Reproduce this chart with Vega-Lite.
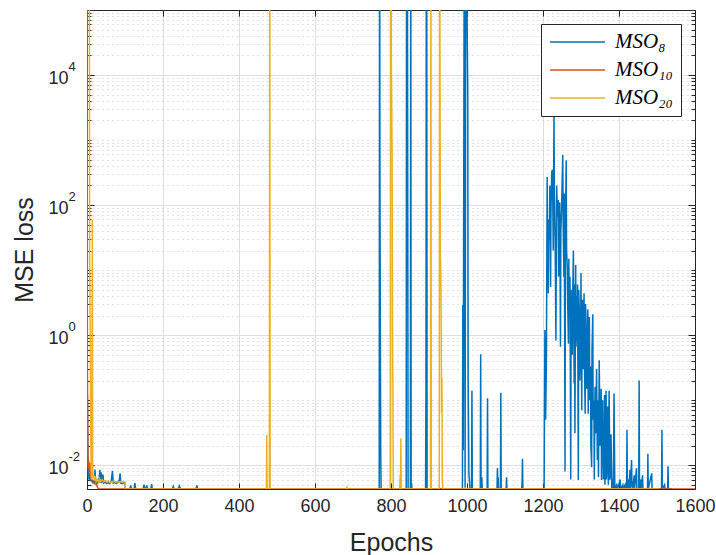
{
"$schema": "https://vega.github.io/schema/vega-lite/v6.json",
"width": 608, "height": 479,
"autosize": {"type": "none"},
"padding": {"left": 87, "top": 10, "right": 21, "bottom": 66},
"background": "white",
"config": {
  "view": {"stroke": null},
  "legend": {"orient": "top-right", "offset": 14, "padding": 8, "strokeColor": "#262626", "fillColor": "white", "cornerRadius": 0,
    "symbolType": "stroke", "symbolSize": 3025, "symbolStrokeWidth": 1.5, "clipHeight": 20, "rowPadding": 7,
    "labelFont": "Liberation Serif", "labelFontStyle": "italic", "labelFontSize": 21, "labelColor": "#000000", "labelOffset": 9}
},
"data": {"values": [
{"s":"MSO₈","e":1,"v":0.12},{"s":"MSO₈","e":2,"v":0.03},{"s":"MSO₈","e":3,"v":0.0065},{"s":"MSO₈","e":4,"v":0.009},{"s":"MSO₈","e":5,"v":0.006},{"s":"MSO₈","e":6,"v":0.0075},{"s":"MSO₈","e":8,"v":0.0058},{"s":"MSO₈","e":10,"v":0.0065},{"s":"MSO₈","e":12,"v":0.0055},{"s":"MSO₈","e":14,"v":0.006},{"s":"MSO₈","e":16,"v":0.0052},{"s":"MSO₈","e":18,"v":0.0058},{"s":"MSO₈","e":20,"v":0.0052},{"s":"MSO₈","e":21,"v":0.0086},{"s":"MSO₈","e":23,"v":0.0055},{"s":"MSO₈","e":26,"v":0.0052},{"s":"MSO₈","e":29,"v":0.0058},{"s":"MSO₈","e":31,"v":0.0053},{"s":"MSO₈","e":34,"v":0.0085},{"s":"MSO₈","e":36,"v":0.0054},{"s":"MSO₈","e":37,"v":0.0078},{"s":"MSO₈","e":39,"v":0.0053},{"s":"MSO₈","e":42,"v":0.0072},{"s":"MSO₈","e":44,"v":0.0053},{"s":"MSO₈","e":48,"v":0.0055},{"s":"MSO₈","e":52,"v":0.0052},{"s":"MSO₈","e":56,"v":0.0054},{"s":"MSO₈","e":60,"v":0.0052},{"s":"MSO₈","e":64,"v":0.0058},{"s":"MSO₈","e":67,"v":0.0082},{"s":"MSO₈","e":69,"v":0.0053},{"s":"MSO₈","e":73,"v":0.0054},{"s":"MSO₈","e":78,"v":0.0052},{"s":"MSO₈","e":82,"v":0.0056},{"s":"MSO₈","e":85,"v":0.0058},{"s":"MSO₈","e":87,"v":0.0075},{"s":"MSO₈","e":89,"v":0.0053},{"s":"MSO₈","e":93,"v":0.0052},{"s":"MSO₈","e":97,"v":0.0054},{"s":"MSO₈","e":100,"v":0.0052},{"s":"MSO₈","e":101,"v":0.0043},
{"s":"MSO₈","e":113,"v":0.0043},{"s":"MSO₈","e":115,"v":0.0049},{"s":"MSO₈","e":117,"v":0.0043},{"s":"MSO₈","e":124,"v":0.0043},{"s":"MSO₈","e":126,"v":0.0053},{"s":"MSO₈","e":128,"v":0.0043},{"s":"MSO₈","e":148,"v":0.0043},{"s":"MSO₈","e":150,"v":0.005},{"s":"MSO₈","e":152,"v":0.0043},{"s":"MSO₈","e":155,"v":0.0043},{"s":"MSO₈","e":157,"v":0.0049},{"s":"MSO₈","e":159,"v":0.0043},{"s":"MSO₈","e":168,"v":0.0043},{"s":"MSO₈","e":170,"v":0.0051},{"s":"MSO₈","e":172,"v":0.0043},{"s":"MSO₈","e":225,"v":0.0043},{"s":"MSO₈","e":227,"v":0.0047},{"s":"MSO₈","e":229,"v":0.0043},{"s":"MSO₈","e":240,"v":0.0043},{"s":"MSO₈","e":243,"v":0.0048},{"s":"MSO₈","e":246,"v":0.0043},{"s":"MSO₈","e":287,"v":0.0043},{"s":"MSO₈","e":289,"v":0.0049},{"s":"MSO₈","e":291,"v":0.0043},
{"s":"MSO₈","e":769,"v":0.0043},{"s":"MSO₈","e":770,"v":10000000},{"s":"MSO₈","e":771,"v":150},{"s":"MSO₈","e":772,"v":0.9},{"s":"MSO₈","e":773,"v":0.015},{"s":"MSO₈","e":774,"v":0.0043},
{"s":"MSO₈","e":840,"v":0.0043},{"s":"MSO₈","e":841,"v":10000000},{"s":"MSO₈","e":842,"v":27000},{"s":"MSO₈","e":843,"v":10000000},{"s":"MSO₈","e":845,"v":0.0043},{"s":"MSO₈","e":851,"v":0.0043},{"s":"MSO₈","e":852,"v":10000000},{"s":"MSO₈","e":853,"v":0.0043},{"s":"MSO₈","e":854,"v":0.0053},{"s":"MSO₈","e":855,"v":0.0043},
{"s":"MSO₈","e":891,"v":0.0043},{"s":"MSO₈","e":892,"v":0.13},{"s":"MSO₈","e":893,"v":10000000},{"s":"MSO₈","e":894,"v":10000000},{"s":"MSO₈","e":895,"v":0.0043},
{"s":"MSO₈","e":988,"v":0.0043},{"s":"MSO₈","e":989,"v":2.9},{"s":"MSO₈","e":990,"v":0.017},{"s":"MSO₈","e":993,"v":10000000},{"s":"MSO₈","e":995,"v":0.0045},{"s":"MSO₈","e":997,"v":10000000},{"s":"MSO₈","e":1002,"v":5400},{"s":"MSO₈","e":1003,"v":0.22},{"s":"MSO₈","e":1005,"v":0.0076},{"s":"MSO₈","e":1008,"v":0.0043},{"s":"MSO₈","e":1012,"v":0.0043},{"s":"MSO₈","e":1013,"v":0.14},{"s":"MSO₈","e":1014,"v":0.0043},
{"s":"MSO₈","e":1035,"v":0.0043},{"s":"MSO₈","e":1036,"v":0.51},{"s":"MSO₈","e":1037,"v":0.0043},{"s":"MSO₈","e":1039,"v":0.0065},{"s":"MSO₈","e":1040,"v":0.0043},{"s":"MSO₈","e":1053,"v":0.0043},{"s":"MSO₈","e":1054,"v":0.107},{"s":"MSO₈","e":1055,"v":0.0043},{"s":"MSO₈","e":1079,"v":0.0043},{"s":"MSO₈","e":1080,"v":0.009},{"s":"MSO₈","e":1081,"v":0.005},{"s":"MSO₈","e":1082,"v":0.0065},{"s":"MSO₈","e":1083,"v":0.0043},{"s":"MSO₈","e":1088,"v":0.0043},{"s":"MSO₈","e":1089,"v":0.13},{"s":"MSO₈","e":1090,"v":0.0043},{"s":"MSO₈","e":1103,"v":0.0043},{"s":"MSO₈","e":1104,"v":0.0065},{"s":"MSO₈","e":1105,"v":0.0043},{"s":"MSO₈","e":1144,"v":0.0043},{"s":"MSO₈","e":1145,"v":0.0055},{"s":"MSO₈","e":1146,"v":0.0125},{"s":"MSO₈","e":1147,"v":0.0043},
{"s":"MSO₈","e":1203,"v":0.0043},{"s":"MSO₈","e":1205,"v":1.2},{"s":"MSO₈","e":1207,"v":0.05},{"s":"MSO₈","e":1209,"v":0.47},{"s":"MSO₈","e":1211,"v":270},{"s":"MSO₈","e":1212,"v":30},{"s":"MSO₈","e":1214,"v":4.4},{"s":"MSO₈","e":1215,"v":60},{"s":"MSO₈","e":1217,"v":29},{"s":"MSO₈","e":1218,"v":200},{"s":"MSO₈","e":1220,"v":5.5},{"s":"MSO₈","e":1221,"v":80},{"s":"MSO₈","e":1223,"v":320},{"s":"MSO₈","e":1225,"v":350},{"s":"MSO₈","e":1227,"v":20},{"s":"MSO₈","e":1229,"v":2600},{"s":"MSO₈","e":1230,"v":150},{"s":"MSO₈","e":1232,"v":26},{"s":"MSO₈","e":1234,"v":0.83},{"s":"MSO₈","e":1236,"v":200},{"s":"MSO₈","e":1238,"v":66},{"s":"MSO₈","e":1240,"v":120},{"s":"MSO₈","e":1241,"v":8},{"s":"MSO₈","e":1243,"v":20},{"s":"MSO₈","e":1244,"v":110},{"s":"MSO₈","e":1246,"v":0.66},{"s":"MSO₈","e":1247,"v":40},{"s":"MSO₈","e":1249,"v":93},{"s":"MSO₈","e":1252,"v":590},{"s":"MSO₈","e":1253,"v":60},{"s":"MSO₈","e":1255,"v":7.9},{"s":"MSO₈","e":1256,"v":150},{"s":"MSO₈","e":1258,"v":0.008},{"s":"MSO₈","e":1259,"v":30},{"s":"MSO₈","e":1261,"v":490},{"s":"MSO₈","e":1262,"v":20},{"s":"MSO₈","e":1264,"v":11},{"s":"MSO₈","e":1265,"v":3},{"s":"MSO₈","e":1267,"v":0.74},{"s":"MSO₈","e":1268,"v":15},{"s":"MSO₈","e":1269,"v":1.9},{"s":"MSO₈","e":1271,"v":8},{"s":"MSO₈","e":1273,"v":0.006},{"s":"MSO₈","e":1274,"v":5},{"s":"MSO₈","e":1275,"v":2.7},{"s":"MSO₈","e":1277,"v":0.5},{"s":"MSO₈","e":1278,"v":3.5},{"s":"MSO₈","e":1280,"v":20},{"s":"MSO₈","e":1282,"v":0.18},{"s":"MSO₈","e":1283,"v":6},{"s":"MSO₈","e":1284,"v":0.031},{"s":"MSO₈","e":1286,"v":12},{"s":"MSO₈","e":1287,"v":0.66},{"s":"MSO₈","e":1288,"v":4},{"s":"MSO₈","e":1290,"v":0.83},{"s":"MSO₈","e":1291,"v":6},{"s":"MSO₈","e":1293,"v":0.0059},{"s":"MSO₈","e":1294,"v":5},{"s":"MSO₈","e":1296,"v":1.9},{"s":"MSO₈","e":1297,"v":0.2},{"s":"MSO₈","e":1299,"v":1.07},{"s":"MSO₈","e":1300,"v":9},{"s":"MSO₈","e":1302,"v":0.07},{"s":"MSO₈","e":1303,"v":2},{"s":"MSO₈","e":1304,"v":3.5},{"s":"MSO₈","e":1306,"v":0.3},{"s":"MSO₈","e":1308,"v":4.4},{"s":"MSO₈","e":1309,"v":0.4},{"s":"MSO₈","e":1311,"v":0.062},{"s":"MSO₈","e":1312,"v":3},{"s":"MSO₈","e":1313,"v":1.9},{"s":"MSO₈","e":1315,"v":0.15},{"s":"MSO₈","e":1317,"v":1.07},{"s":"MSO₈","e":1318,"v":2.5},{"s":"MSO₈","e":1319,"v":0.062},{"s":"MSO₈","e":1320,"v":0.8},{"s":"MSO₈","e":1322,"v":1.9},{"s":"MSO₈","e":1323,"v":0.1},{"s":"MSO₈","e":1325,"v":0.33},{"s":"MSO₈","e":1326,"v":0.02},{"s":"MSO₈","e":1328,"v":0.0094},{"s":"MSO₈","e":1329,"v":0.6},{"s":"MSO₈","e":1331,"v":2.1},{"s":"MSO₈","e":1332,"v":0.05},{"s":"MSO₈","e":1334,"v":0.1},{"s":"MSO₈","e":1335,"v":0.006},{"s":"MSO₈","e":1337,"v":0.16},{"s":"MSO₈","e":1338,"v":0.04},{"s":"MSO₈","e":1339,"v":0.031},{"s":"MSO₈","e":1341,"v":0.3},{"s":"MSO₈","e":1343,"v":0.012},{"s":"MSO₈","e":1344,"v":0.1},{"s":"MSO₈","e":1346,"v":0.0066},{"s":"MSO₈","e":1348,"v":0.41},{"s":"MSO₈","e":1350,"v":0.02},{"s":"MSO₈","e":1352,"v":0.031},{"s":"MSO₈","e":1353,"v":0.15},{"s":"MSO₈","e":1354,"v":0.0059},{"s":"MSO₈","e":1356,"v":0.05},{"s":"MSO₈","e":1357,"v":0.1},{"s":"MSO₈","e":1359,"v":0.006},{"s":"MSO₈","e":1361,"v":0.017},{"s":"MSO₈","e":1362,"v":0.12},{"s":"MSO₈","e":1363,"v":0.005},{"s":"MSO₈","e":1365,"v":0.03},{"s":"MSO₈","e":1366,"v":0.14},{"s":"MSO₈","e":1367,"v":0.006},{"s":"MSO₈","e":1369,"v":0.012},{"s":"MSO₈","e":1370,"v":0.08},{"s":"MSO₈","e":1372,"v":0.005},{"s":"MSO₈","e":1374,"v":0.14},{"s":"MSO₈","e":1376,"v":0.006},{"s":"MSO₈","e":1378,"v":0.0094},{"s":"MSO₈","e":1379,"v":0.03},{"s":"MSO₈","e":1381,"v":0.0043},{"s":"MSO₈","e":1384,"v":0.006},{"s":"MSO₈","e":1385,"v":0.0043},{"s":"MSO₈","e":1387,"v":0.126},{"s":"MSO₈","e":1389,"v":0.0043},{"s":"MSO₈","e":1394,"v":0.005},{"s":"MSO₈","e":1396,"v":0.0043},{"s":"MSO₈","e":1403,"v":0.006},{"s":"MSO₈","e":1404,"v":0.0043},{"s":"MSO₈","e":1410,"v":0.005},{"s":"MSO₈","e":1411,"v":0.0043},{"s":"MSO₈","e":1416,"v":0.005},{"s":"MSO₈","e":1417,"v":0.0043},
{"s":"MSO₈","e":1420,"v":0.0043},{"s":"MSO₈","e":1421,"v":0.035},{"s":"MSO₈","e":1422,"v":0.0043},{"s":"MSO₈","e":1425,"v":0.006},{"s":"MSO₈","e":1426,"v":0.0043},{"s":"MSO₈","e":1429,"v":0.0085},{"s":"MSO₈","e":1430,"v":0.0043},{"s":"MSO₈","e":1433,"v":0.012},{"s":"MSO₈","e":1434,"v":0.005},{"s":"MSO₈","e":1436,"v":0.0043},{"s":"MSO₈","e":1440,"v":0.007},{"s":"MSO₈","e":1441,"v":0.0043},{"s":"MSO₈","e":1446,"v":0.009},{"s":"MSO₈","e":1447,"v":0.0043},{"s":"MSO₈","e":1452,"v":0.0043},{"s":"MSO₈","e":1453,"v":0.2},{"s":"MSO₈","e":1454,"v":0.0043},{"s":"MSO₈","e":1457,"v":0.006},{"s":"MSO₈","e":1458,"v":0.0043},{"s":"MSO₈","e":1462,"v":0.007},{"s":"MSO₈","e":1463,"v":0.0043},{"s":"MSO₈","e":1475,"v":0.0043},{"s":"MSO₈","e":1476,"v":0.015},{"s":"MSO₈","e":1477,"v":0.0043},{"s":"MSO₈","e":1486,"v":0.0075},{"s":"MSO₈","e":1487,"v":0.0043},{"s":"MSO₈","e":1512,"v":0.0043},{"s":"MSO₈","e":1513,"v":0.035},{"s":"MSO₈","e":1514,"v":0.0043},{"s":"MSO₈","e":1520,"v":0.005},{"s":"MSO₈","e":1521,"v":0.0043},{"s":"MSO₈","e":1528,"v":0.0043},{"s":"MSO₈","e":1529,"v":0.0096},{"s":"MSO₈","e":1530,"v":0.0043},{"s":"MSO₈","e":1540,"v":0.0043},
{"s":"MSO₁₀","e":0,"v":10000000},{"s":"MSO₁₀","e":1,"v":0.4},{"s":"MSO₁₀","e":2,"v":0.02},{"s":"MSO₁₀","e":3,"v":0.009},{"s":"MSO₁₀","e":4,"v":0.012},{"s":"MSO₁₀","e":6,"v":0.008},{"s":"MSO₁₀","e":8,"v":0.011},{"s":"MSO₁₀","e":9,"v":0.0065},{"s":"MSO₁₀","e":11,"v":0.007},{"s":"MSO₁₀","e":13,"v":0.0058},{"s":"MSO₁₀","e":16,"v":0.0055},{"s":"MSO₁₀","e":20,"v":0.0052},{"s":"MSO₁₀","e":25,"v":0.005},{"s":"MSO₁₀","e":30,"v":0.0043},{"s":"MSO₁₀","e":1600,"v":0.0043},
{"s":"MSO₂₀","e":0,"v":10000000},{"s":"MSO₂₀","e":6,"v":10000000},{"s":"MSO₂₀","e":7,"v":13},{"s":"MSO₂₀","e":8,"v":3.5},{"s":"MSO₂₀","e":10,"v":0.024},{"s":"MSO₂₀","e":11,"v":0.008},{"s":"MSO₂₀","e":12,"v":0.006},{"s":"MSO₂₀","e":13,"v":0.0065},{"s":"MSO₂₀","e":14,"v":59},{"s":"MSO₂₀","e":15,"v":0.009},{"s":"MSO₂₀","e":16,"v":0.0065},{"s":"MSO₂₀","e":18,"v":0.007},{"s":"MSO₂₀","e":20,"v":0.0058},{"s":"MSO₂₀","e":22,"v":0.0068},{"s":"MSO₂₀","e":24,"v":0.0056},{"s":"MSO₂₀","e":27,"v":0.006},{"s":"MSO₂₀","e":30,"v":0.0055},{"s":"MSO₂₀","e":33,"v":0.0062},{"s":"MSO₂₀","e":36,"v":0.0056},{"s":"MSO₂₀","e":40,"v":0.006},{"s":"MSO₂₀","e":44,"v":0.0055},{"s":"MSO₂₀","e":48,"v":0.0058},{"s":"MSO₂₀","e":52,"v":0.0055},{"s":"MSO₂₀","e":56,"v":0.0057},{"s":"MSO₂₀","e":60,"v":0.0054},{"s":"MSO₂₀","e":64,"v":0.0056},{"s":"MSO₂₀","e":68,"v":0.0055},{"s":"MSO₂₀","e":72,"v":0.0057},{"s":"MSO₂₀","e":76,"v":0.0055},{"s":"MSO₂₀","e":80,"v":0.0056},{"s":"MSO₂₀","e":84,"v":0.0054},{"s":"MSO₂₀","e":88,"v":0.0056},{"s":"MSO₂₀","e":92,"v":0.0055},{"s":"MSO₂₀","e":96,"v":0.0055},{"s":"MSO₂₀","e":100,"v":0.0055},{"s":"MSO₂₀","e":101,"v":0.0043},{"s":"MSO₂₀","e":472,"v":0.0043},{"s":"MSO₂₀","e":473,"v":0.029},{"s":"MSO₂₀","e":474,"v":0.0043},{"s":"MSO₂₀","e":480,"v":0.0043},{"s":"MSO₂₀","e":481,"v":10000000},{"s":"MSO₂₀","e":482,"v":0.0043},{"s":"MSO₂₀","e":683,"v":0.0043},{"s":"MSO₂₀","e":684,"v":0.0047},{"s":"MSO₂₀","e":685,"v":0.0043},{"s":"MSO₂₀","e":798,"v":0.0043},{"s":"MSO₂₀","e":799,"v":10000000},{"s":"MSO₂₀","e":800,"v":10000000},{"s":"MSO₂₀","e":801,"v":13000},{"s":"MSO₂₀","e":802,"v":2900},{"s":"MSO₂₀","e":803,"v":490},{"s":"MSO₂₀","e":804,"v":1.0},{"s":"MSO₂₀","e":805,"v":0.15},{"s":"MSO₂₀","e":806,"v":0.0043},{"s":"MSO₂₀","e":823,"v":0.0043},{"s":"MSO₂₀","e":824,"v":0.007},{"s":"MSO₂₀","e":825,"v":0.0043},{"s":"MSO₂₀","e":826,"v":0.026},{"s":"MSO₂₀","e":827,"v":0.0043},{"s":"MSO₂₀","e":904,"v":0.0043},{"s":"MSO₂₀","e":905,"v":10000000},{"s":"MSO₂₀","e":906,"v":0.0043},{"s":"MSO₂₀","e":927,"v":0.0043},{"s":"MSO₂₀","e":928,"v":10000000},{"s":"MSO₂₀","e":929,"v":13000},{"s":"MSO₂₀","e":930,"v":16},{"s":"MSO₂₀","e":931,"v":10},{"s":"MSO₂₀","e":932,"v":2.2},{"s":"MSO₂₀","e":933,"v":0.063},{"s":"MSO₂₀","e":934,"v":0.22},{"s":"MSO₂₀","e":935,"v":0.006},{"s":"MSO₂₀","e":936,"v":0.0043},{"s":"MSO₂₀","e":1505,"v":0.0043}
]},
"layer": [
  {
    "mark": {"type": "line", "clip": true, "strokeWidth": 1.5},
    "encoding": {
      "x": {"field": "e", "type": "quantitative",
        "scale": {"domain": [0, 1600], "nice": false, "zero": false},
        "axis": {"orient": "bottom", "values": [0,200,400,600,800,1000,1200,1400,1600], "format": "d", "grid": true, "gridColor": "#dedede", "gridWidth": 1,
          "tickSize": -6, "tickColor": "#262626", "tickWidth": 1, "domainColor": "#262626", "domainWidth": 1,
          "labelFont": "Liberation Sans", "labelFontSize": 18, "labelColor": "#262626", "labelPadding": 14, "labelFlush": false, "labelOverlap": false,
          "title": "Epochs", "titleFont": "Liberation Sans", "titleFontSize": 25, "titleFontWeight": "normal", "titleColor": "#262626", "titlePadding": 15}},
      "y": {"field": "v", "type": "quantitative",
        "scale": {"type": "log", "domain": [0.0043, 100000], "nice": false},
        "axis": {"orient": "left",
          "values": [0.005,0.006,0.007,0.008,0.009,0.01,0.02,0.03,0.04,0.05,0.06,0.07,0.08,0.09,0.1,0.2,0.3,0.4,0.5,0.6,0.7,0.8,0.9,1,2,3,4,5,6,7,8,9,10,20,30,40,50,60,70,80,90,100,200,300,400,500,600,700,800,900,1000,2000,3000,4000,5000,6000,7000,8000,9000,10000,20000,30000,40000,50000,60000,70000,80000,90000],
          "grid": true,
          "gridColor": {"condition": {"test": "indexof([0.01,1,100,10000], datum.value) >= 0", "value": "#dedede"}, "value": "#c2c2c2"},
          "gridDash": {"condition": {"test": "indexof([0.01,1,100,10000], datum.value) >= 0", "value": []}, "value": [1, 4]},
          "tickSize": {"condition": {"test": "indexof([0.01,1,100,10000], datum.value) >= 0", "value": -7}, "value": -4},
          "tickColor": "#262626", "tickWidth": 1, "domainColor": "#262626", "domainWidth": 1,
          "labelExpr": "indexof([0.01,1,100,10000], datum.value) >= 0 ? '10' : ''",
          "labelFont": "Liberation Sans", "labelFontSize": 18, "labelColor": "#262626",
          "labelPadding": 26,
          "labelFlush": false, "labelOverlap": false, "labelOffset": 3.5,
          "title": "MSE loss", "titleFont": "Liberation Sans", "titleFontSize": 25, "titleFontWeight": "normal", "titleColor": "#262626", "titlePadding": 10}},
      "color": {"field": "s", "type": "nominal",
        "scale": {"domain": ["MSO₈", "MSO₁₀", "MSO₂₀"], "range": ["#0072BD", "#D95319", "#EDB120"]},
        "legend": {"title": null}}
    }
  },
  {
    "mark": {"type": "point", "opacity": 0, "clip": true},
    "encoding": {
      "x": {"field": "e", "type": "quantitative",
        "scale": {"domain": [0, 1600], "nice": false, "zero": false},
        "axis": {"orient": "top", "values": [0,200,400,600,800,1000,1200,1400,1600], "grid": false, "labels": false, "title": null,
          "tickSize": -6, "tickColor": "#262626", "tickWidth": 1, "domainColor": "#262626", "domainWidth": 1}},
      "y": {"field": "v", "type": "quantitative",
        "scale": {"type": "log", "domain": [0.0043, 100000], "nice": false},
        "axis": {"orient": "right",
          "values": [0.005,0.006,0.007,0.008,0.009,0.01,0.02,0.03,0.04,0.05,0.06,0.07,0.08,0.09,0.1,0.2,0.3,0.4,0.5,0.6,0.7,0.8,0.9,1,2,3,4,5,6,7,8,9,10,20,30,40,50,60,70,80,90,100,200,300,400,500,600,700,800,900,1000,2000,3000,4000,5000,6000,7000,8000,9000,10000,20000,30000,40000,50000,60000,70000,80000,90000],
          "grid": false, "labels": false, "title": null,
          "tickSize": {"condition": {"test": "indexof([0.01,1,100,10000], datum.value) >= 0", "value": -7}, "value": -4},
          "tickColor": "#262626", "tickWidth": 1, "domainColor": "#262626", "domainWidth": 1}}
    }
  },
  {
    "mark": {"type": "point", "opacity": 0, "clip": true},
    "encoding": {
      "x": {"field": "e", "type": "quantitative",
        "scale": {"domain": [0, 1600], "nice": false, "zero": false},
        "axis": null},
      "y": {"field": "v", "type": "quantitative",
        "scale": {"type": "log", "domain": [0.0043, 100000], "nice": false},
        "axis": {"orient": "left", "values": [0.01, 1, 100, 10000], "grid": false, "ticks": false, "domain": false, "title": null,
          "labelExpr": "datum.value == 0.01 ? '-2' : datum.value == 1 ? '0' : datum.value == 100 ? '2' : '4'",
          "labelFont": "Liberation Sans", "labelFontSize": 13, "labelColor": "#262626", "labelAlign": "left", "labelPadding": 19, "labelOffset": -9,
          "labelFlush": false, "labelOverlap": false}}
    }
  }
],
"resolve": {"axis": {"x": "independent", "y": "independent"}}
}
